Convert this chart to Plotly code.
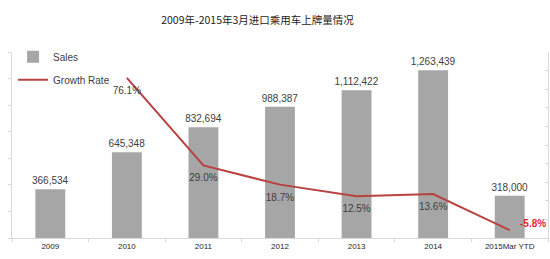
import plotly.graph_objects as go

categories = ["2009", "2010", "2011", "2012", "2013", "2014", "2015Mar YTD"]
sales = [366534, 645348, 832694, 988387, 1112422, 1263439, 318000]
growth = [None, 76.1, 29.0, 18.7, 12.5, 13.6, -5.8]
growth_labels = ["", "76.1%", "29.0%", "18.7%", "12.5%", "13.6%", ""]
last_growth_label = "-5.8%"
sales_labels = [f"{v:,}" for v in sales]

title_text = "2009年-2015年3月进口乘用车上牌量情况"

FONT = "Liberation Sans, Arial, sans-serif"
AXC = "#d9d9d9"

fig = go.Figure()
fig.add_trace(go.Bar(
    x=categories, y=sales, name="Sales", legendgroup="a",
    marker=dict(color="#a6a6a6", line=dict(width=0)),
    text=sales_labels, textposition="outside", cliponaxis=False,
    constraintext="none",
    textfont=dict(family=FONT, size=10, color="#404040"),
    yaxis="y",
))
fig.add_trace(go.Scatter(
    x=categories, y=growth, name="Growth Rate", legendgroup="b",
    mode="lines+markers+text", line=dict(color="#b8423f", width=2),
    marker=dict(size=12, color="rgba(0,0,0,0)", line=dict(width=0, color="rgba(0,0,0,0)")),
    text=growth_labels,
    textposition="bottom center",
    textfont=dict(family=FONT, size=10, color="#404040"),
    cliponaxis=False,
    yaxis="y2",
))

fig.add_annotation(
    x=categories[-1], y=growth[-1], xref="x", yref="y2",
    text=f"<b>{last_growth_label}</b>", showarrow=False,
    xanchor="left", yanchor="middle", xshift=8, yshift=7,
    font=dict(family=FONT, size=10, color="#e8262b"),
)

fig.update_layout(
    width=550, height=259,
    margin=dict(l=12, r=2, t=52, b=21),
    paper_bgcolor="white", plot_bgcolor="white",
    title=dict(text=title_text, x=257.5 / 550, xanchor="center", y=1 - 20 / 259, yanchor="middle",
               font=dict(family="Noto Sans CJK SC, sans-serif", size=10.5, color="#222222")),
    bargap=0.61,
    showlegend=True,
    legend=dict(x=0.002, y=1.052, xanchor="left", yanchor="top",
                traceorder="grouped", tracegroupgap=4,
                font=dict(family=FONT, size=10, color="#404040"),
                bgcolor="rgba(0,0,0,0)", itemwidth=30),
    xaxis=dict(type="category", showgrid=False, showline=True, linecolor=AXC, linewidth=1,
               ticks="outside", tickson="boundaries", ticklen=3, tickcolor=AXC,
               tickfont=dict(family=FONT, size=8, color="#262626")),
    yaxis=dict(range=[0, 1400000], dtick=200000, showgrid=False, showline=True,
               linecolor=AXC, linewidth=1, ticks="outside", ticklen=3, tickcolor=AXC,
               showticklabels=False, zeroline=False),
    yaxis2=dict(range=[-10, 90], dtick=10, overlaying="y", side="right", showgrid=False,
                showline=True, linecolor=AXC, linewidth=1, ticks="inside", ticklen=3,
                tickcolor=AXC, showticklabels=False, zeroline=False),
)

fig.write_html("out.html")
